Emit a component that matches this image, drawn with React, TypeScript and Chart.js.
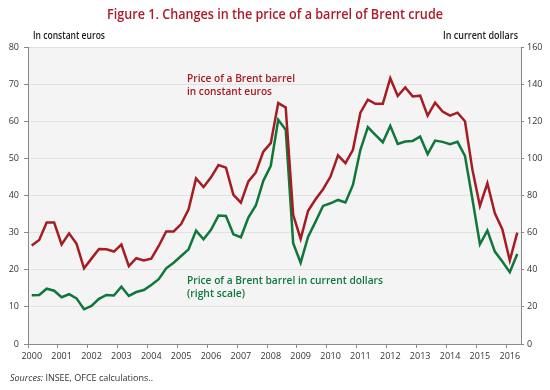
import React, { useEffect, useRef } from 'react';
import { Chart, registerables } from 'chart.js';

Chart.register(...registerables);

const years = ['2000', '2001', '2002', '2003', '2004', '2005', '2006', '2007', '2008', '2009', '2010', '2011', '2012', '2013', '2014', '2015', '2016'];
const quarterNames = ['Q1', 'Q2', 'Q3', 'Q4'];
const lastQuarterCount = 2; // 2016: Q1-Q2

const categories: string[] = [];
years.forEach((y, yi) => {
  const n = yi === years.length - 1 ? lastQuarterCount : 4;
  for (let q = 0; q < n; q++) categories.push(y + quarterNames[q]);
});

// Price of a Brent barrel in constant euros (left scale)
const constantEuros = [26.5, 28.0, 32.7, 32.7, 26.8, 29.8, 27.0, 20.4, 23.0, 25.6, 25.5, 24.9, 26.8, 21.0, 23.1, 22.5, 23.0, 26.4, 30.3, 30.3, 32.3, 36.3, 44.6, 42.3, 44.9, 48.2, 47.5, 40.2, 38.1, 43.8, 46.2, 51.8, 54.1, 64.9, 63.7, 34.8, 28.3, 35.9, 39.0, 41.7, 45.1, 50.8, 48.7, 52.3, 62.3, 65.8, 64.7, 64.7, 71.6, 66.8, 69.1, 66.7, 66.9, 61.5, 65.0, 62.6, 61.5, 62.3, 60.0, 46.9, 37.2, 43.3, 35.2, 30.9, 22.5, 30.0];

// Price of a Brent barrel in current dollars (right scale)
const currentDollars = [26.3, 26.4, 29.8, 28.7, 25.2, 26.8, 24.6, 18.7, 20.5, 24.3, 26.4, 26.1, 30.9, 25.9, 28.0, 29.1, 31.8, 34.9, 40.8, 43.8, 47.4, 51.0, 61.1, 56.4, 61.5, 69.2, 69.0, 59.1, 57.5, 68.1, 74.6, 87.9, 96.0, 120.8, 115.4, 54.3, 43.8, 57.8, 65.9, 74.4, 75.8, 77.6, 76.2, 85.7, 104.6, 116.8, 112.7, 108.7, 117.5, 107.8, 109.1, 109.4, 111.8, 102.3, 109.6, 108.9, 107.6, 108.9, 101.3, 78.0, 53.7, 61.1, 49.8, 44.4, 38.7, 48.5];

const title = 'Figure 1. Changes in the price of a barrel of Brent crude';
const leftAxisTitle = 'In constant euros';
const rightAxisTitle = 'In current dollars';
const redLabel = ['Price of a Brent barrel', 'in constant euros'];
const greenLabel = ['Price of a Brent barrel in current dollars', '(right scale)'];
const sourceLead = 'Sources:';
const sourceText = ' INSEE, OFCE calculations..';

const RED = '#a51c22';
const GREEN = '#0f773a';
const TITLE_RED = '#ad1a2c';
const FONT = '"Open Sans", "Noto Sans", sans-serif';

const decorPlugin = {
  id: 'decor',
  beforeDraw(chart: any) {
    const { ctx, chartArea } = chart;
    ctx.save();
    ctx.fillStyle = '#ffffff';
    ctx.fillRect(0, 0, chart.width, chart.height);
    ctx.fillStyle = '#f4f4f4';
    ctx.fillRect(chartArea.left, chartArea.top, chartArea.right - chartArea.left, chartArea.bottom - chartArea.top);
    ctx.restore();
  },
  afterDraw(chart: any) {
    const { ctx } = chart;
    ctx.save();
    ctx.textBaseline = 'middle';
    // title
    ctx.fillStyle = TITLE_RED;
    ctx.font = `600 14px ${FONT}`;
    ctx.textAlign = 'center';
    ctx.fillText(title, 275, 15, 336);
    // axis titles
    ctx.fillStyle = '#222';
    ctx.font = `600 10px ${FONT}`;
    ctx.textAlign = 'left';
    ctx.fillText(leftAxisTitle, 33, 36, 72);
    ctx.textAlign = 'right';
    ctx.fillText(rightAxisTitle, 518, 36, 75);
    // annotations
    ctx.textAlign = 'left';
    ctx.font = `600 11px ${FONT}`;
    ctx.fillStyle = RED;
    ctx.fillText(redLabel[0], 187, 79, 108);
    ctx.fillText(redLabel[1], 187, 92, 85);
    ctx.fillStyle = GREEN;
    ctx.fillText(greenLabel[0], 187, 281, 196);
    ctx.fillText(greenLabel[1], 187, 294, 58);
    // source
    ctx.fillStyle = '#333';
    ctx.font = `italic 9px ${FONT}`;
    ctx.fillText(sourceLead, 10, 378);
    const w = ctx.measureText(sourceLead).width;
    ctx.font = `9px ${FONT}`;
    ctx.fillText(sourceText, 10 + w, 378);
    ctx.restore();
  },
};

export default function App() {
  const ref = useRef<HTMLCanvasElement | null>(null);
  useEffect(() => {
    if (!ref.current) return;
    const tickFont = { family: FONT, size: 9 };
    const chart = new Chart(ref.current, {
      type: 'line',
      data: {
        labels: categories,
        datasets: [
          {
            label: 'Constant euros',
            data: constantEuros,
            borderColor: RED,
            borderWidth: 2.5,
            pointRadius: 0,
            tension: 0,
            yAxisID: 'y',
          },
          {
            label: 'Current dollars',
            data: currentDollars,
            borderColor: GREEN,
            borderWidth: 2.5,
            pointRadius: 0,
            tension: 0,
            yAxisID: 'y1',
          },
        ],
      },
      options: {
        responsive: false,
        animation: false,
        devicePixelRatio: 1,
        layout: { padding: { top: 47, left: 0, right: 0, bottom: 0 } },
        plugins: { legend: { display: false }, tooltip: { enabled: false }, title: { display: false } },
        scales: {
          x: {
            type: 'category',
            offset: true,
            grid: {
              offset: true,
              drawOnChartArea: false,
              drawTicks: true,
              tickLength: 4,
              tickColor: (c: any) => (c.index % 4 === 0 ? '#888' : 'rgba(0,0,0,0)'),
            },
            border: { display: true, color: '#888', width: 1 },
            ticks: {
              autoSkip: false,
              maxRotation: 0,
              minRotation: 0,
              padding: 3,
              color: '#333',
              font: tickFont,
              callback: (_v: any, i: number) => (i % 4 === 0 ? categories[i].slice(0, 4) : ''),
            },
            afterFit: (s: any) => {
              s.height = 46;
            },
          },
          y: {
            position: 'left',
            min: 0,
            max: 80,
            ticks: { stepSize: 10, padding: 5, color: '#333', font: tickFont },
            grid: { color: '#e2e2e2', tickColor: '#888', tickLength: 4 },
            border: { display: true, color: '#888', width: 1 },
            afterFit: (s: any) => {
              s.width = 28;
            },
          },
          y1: {
            position: 'right',
            min: 0,
            max: 160,
            ticks: { stepSize: 20, padding: 3, color: '#333', font: tickFont },
            grid: { drawOnChartArea: false, tickColor: '#888', tickLength: 3 },
            border: { display: true, color: '#888', width: 1 },
            afterFit: (s: any) => {
              s.width = 29;
            },
          },
        },
      },
      plugins: [decorPlugin],
    } as any);
    return () => chart.destroy();
  }, []);
  return (
    <div style={{ position: 'absolute', left: 0, top: 0, width: 550, height: 390 }}>
      <canvas ref={ref} width={550} height={390} />
    </div>
  );
}
